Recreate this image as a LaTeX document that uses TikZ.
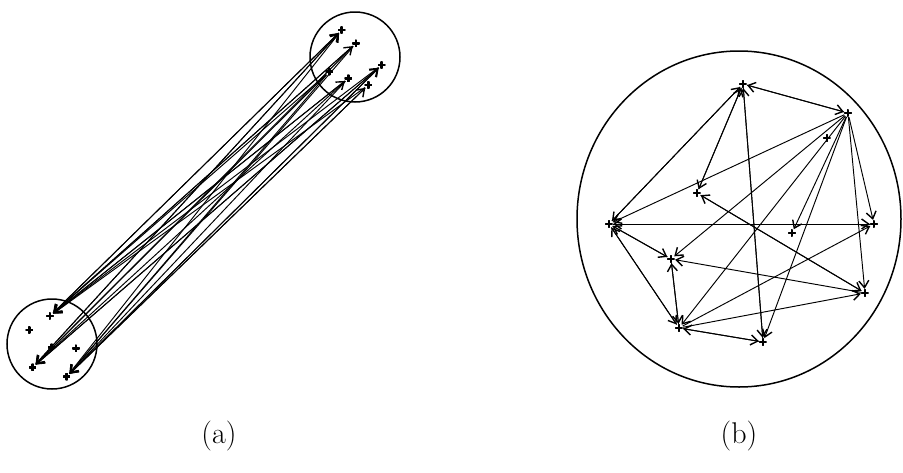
\documentclass[tikz,border=0pt]{standalone}
\usepackage{fontspec}
\usetikzlibrary{arrows.meta}
\begin{document}
\begin{tikzpicture}[x=1pt,y=-1pt,
  mk/.style={circle,inner sep=0pt,minimum size=8pt,
    path picture={\draw[line width=2.5pt]
      (path picture bounding box.west) -- (path picture bounding box.east)
      (path picture bounding box.north) -- (path picture bounding box.south);}},
  arr/.style={line width=0.95pt,-{Straight Barb[length=7pt,width=10pt,line width=1.4pt]}},
  ring/.style={line width=1.5pt},
  lab/.style={font=\fontsize{30}{36}\selectfont}]
\path[use as bounding box] (0,0) rectangle (903,472);
% ---------- (a) ----------
\draw[ring] (355,57) circle[radius=45];
\draw[ring] (52,344) circle[radius=45];
\node[mk] (T1) at (341.7,30) {};
\node[mk] (T2) at (356,43.3) {};
\node[mk] (T3) at (329.3,71.7) {};
\node[mk] (T4) at (348.3,78.3) {};
\node[mk] (T5) at (381.7,65) {};
\node[mk] (T6) at (368.3,85) {};
\node[mk] (L1) at (50,316) {};
\node[mk] (L2) at (29.3,330) {};
\node[mk] (L3) at (51.7,347.3) {};
\node[mk] (L4) at (76,348.3) {};
\node[mk] (L5) at (32.7,367.3) {};
\node[mk] (L6) at (66.7,376.7) {};
\foreach \s/\t in {L1/T1,L5/T1,L6/T1,L1/T2,L5/T5,L6/T5,L1/T4,L6/T6,
  T1/L1,T2/L1,T3/L1,T4/L1,T5/L1,T1/L5,T2/L5,T3/L5,T4/L5,T4/L6,T5/L6,
  T6/L6,T3/L6,T5/L5,T2/L6,T6/L1}
  \draw[arr] (\s) -- (\t);
\node[lab] (la) at (219,436) {(a)};
% ---------- (b) ----------
\draw[ring] (739,219) ellipse[x radius=162,y radius=168];
\node[mk] (A) at (743,84) {};
\node[mk] (B) at (848,113) {};
\node[mk] (C) at (827,138) {};
\node[mk] (D) at (697,193) {};
\node[mk] (E) at (609,224) {};
\node[mk] (F) at (792,233) {};
\node[mk] (G) at (874,224) {};
\node[mk] (H) at (671,259) {};
\node[mk] (I) at (865,293) {};
\node[mk] (J) at (679,328) {};
\node[mk] (K) at (763,342) {};
\foreach \s/\t in {A/E,E/A,A/D,D/A,A/B,B/A,A/K,K/A,
  B/E,B/H,B/J,B/K,B/F,B/G,B/I,
  E/G,G/E,E/H,H/E,E/J,J/E,H/J,J/H,I/H,D/I,I/D,J/I,J/G,J/K,K/J}
  \draw[arr] (\s) -- (\t);
\node[lab] (lb) at (739,436) {(b)};
\end{tikzpicture}
\end{document}
